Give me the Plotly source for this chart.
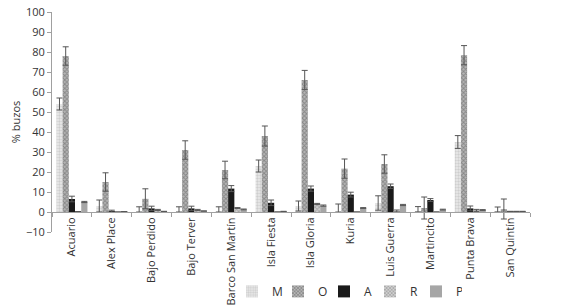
import plotly.graph_objects as go

categories = ["Acuario", "Alex Place", "Bajo Perdido", "Bajo Terver", "Barco San Martín",
              "Isla Fiesta", "Isla Gloria", "Kuria", "Luis Guerra", "Martincito",
              "Punta Brava", "San Quintín"]

M = [54, 3, 0, 0, 0, 23, 3, 0, 4.5, 0.5, 35, 0.5]
M_err = [3, 3, 2.6, 2.6, 2.6, 3, 2.5, 4, 3.6, 2.2, 3.2, 2]
O = [78, 15, 6.6, 31, 21, 38, 66, 21.7, 24, 2, 78.4, 1.5]
O_err = [4.6, 4.6, 5, 4.6, 4.4, 5, 4.8, 4.8, 4.6, 5.5, 4.8, 5]
A = [6.5, 0.3, 1.8, 1.8, 11.7, 4.6, 11.7, 8.7, 12.9, 6, 1.8, 0.3]
A_err = [1.4, 0.6, 1.1, 1.1, 1.5, 1.4, 1.3, 1.2, 1.1, 0.7, 1.2, 0]
R = [0.2, 0, 1, 1, 2, 0, 4, 0, 0.5, 0, 0.8, 0.3]
R_err = [0, 0, 0.3, 0.3, 0.2, 0, 0.3, 0, 0.5, 0, 0.5, 0]
P = [5, 0.2, 0.3, 0.5, 1.3, 0.3, 3.2, 2, 3.5, 1.2, 1, 0.3]
P_err = [0.3, 0, 0, 0, 0.2, 0, 0.3, 0.2, 0.3, 0.2, 0.2, 0]

y_title = "% buzos"

series = [
    ("M", M, M_err, dict(color="#ececec", pattern=dict(shape=".", fgcolor="#b0b0b0", bgcolor="#ececec", size=3, solidity=0.5)), False),
    ("O", O, O_err, dict(color="#9a9a9a", pattern=dict(shape="x", fgcolor="#555555", bgcolor="#b5b5b5", size=3, solidity=0.5)), True),
    ("A", A, A_err, dict(color="#1a1a1a"), False),
    ("R", R, R_err, dict(color="#aaaaaa", pattern=dict(shape="x", fgcolor="#777777", bgcolor="#d0d0d0", size=3, solidity=0.5)), False),
    ("P", P, P_err, dict(color="#a6a6a6"), False),
]

fig = go.Figure()
for name, vals, errs, marker, symmetric in series:
    minus = errs if symmetric else [min(e, v) for e, v in zip(errs, vals)]
    fig.add_trace(go.Bar(
        name=name, x=categories, y=vals,
        marker=dict(line=dict(width=0), **marker),
        error_y=dict(type="data", array=errs, arrayminus=minus, symmetric=False,
                     color="#555555", thickness=1, width=3),
    ))

fig.update_layout(
    width=565, height=308,
    margin=dict(l=52, r=35, t=12, b=76, autoexpand=False),
    paper_bgcolor="white", plot_bgcolor="white",
    barmode="group", bargap=0.22, bargroupgap=0,
    font=dict(family="Open Sans", size=11, color="#333333"),
    showlegend=True,
    legend=dict(orientation="h", x=0.3766, xanchor="left", y=-0.27, yanchor="middle",
                bgcolor="rgba(0,0,0,0)",
                font=dict(size=12, color="#333333"), itemwidth=30,
                entrywidth=1, entrywidthmode="pixels", tracegroupgap=0),
    xaxis=dict(type="category", anchor="free", position=10 / 110, automargin=False,
               showline=True, linecolor="#a0a0a0", linewidth=1,
               ticks="outside", ticklen=4, tickcolor="#a0a0a0", tickson="boundaries",
               tickangle=-90, tickfont=dict(size=11, color="#333333"),
               showgrid=False, zeroline=False),
    yaxis=dict(range=[-10, 100], dtick=10, tick0=0, automargin=False,
               showline=True, linecolor="#a0a0a0", linewidth=1,
               ticks="outside", ticklen=4, tickcolor="#a0a0a0",
               tickfont=dict(size=11, color="#333333"),
               showgrid=False, zeroline=False),
    annotations=[dict(text=y_title, xref="paper", yref="paper", x=-0.077, y=0.5,
                      xanchor="center", yanchor="middle", textangle=-90, showarrow=False,
                      font=dict(size=11, color="#333333"))],
)

fig.write_html("out.html", config={"displayModeBar": False},
               post_script="document.body.style.margin='0px';")
